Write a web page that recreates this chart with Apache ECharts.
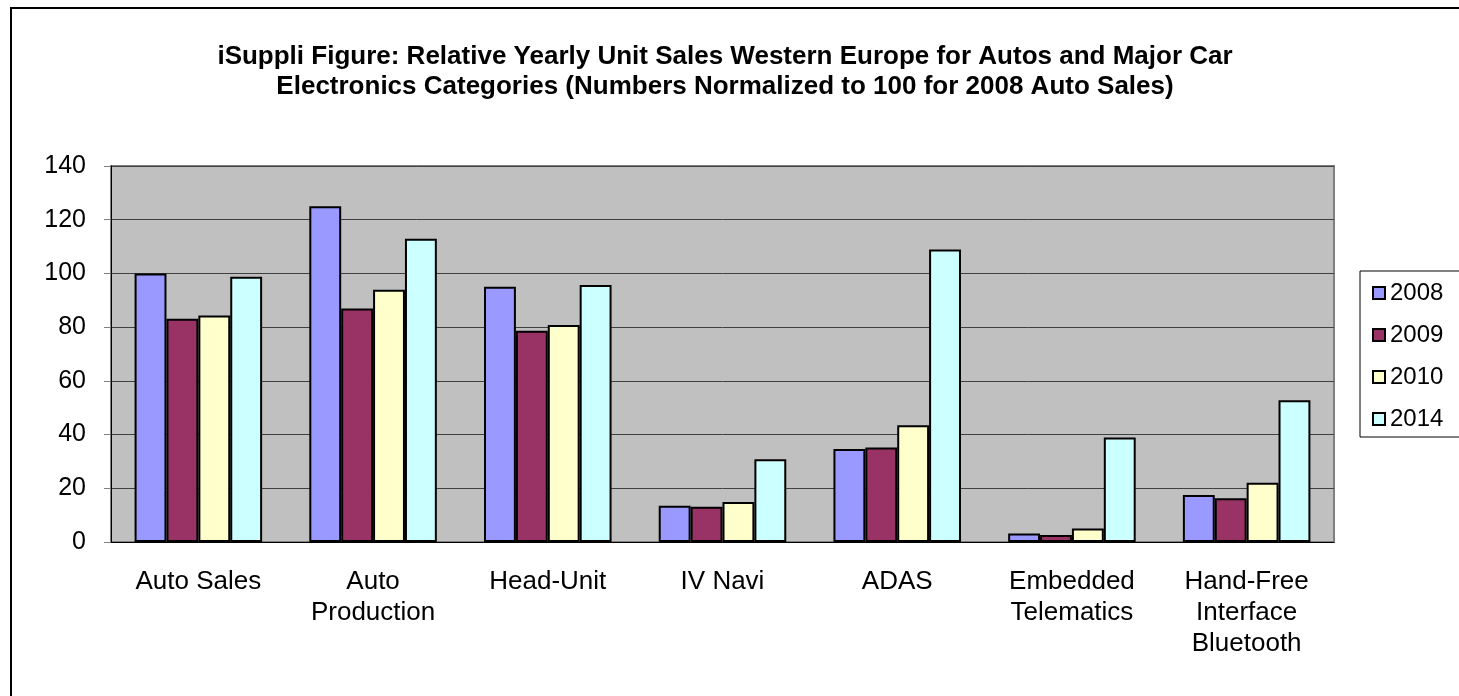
<!DOCTYPE html>
<html lang="en">
<head>
    <meta charset="UTF-8">
    <title>iSuppli Western Europe</title>
    <style>
        html,
        body {
            margin: 0;
            padding: 0;
            width: 100%;
            height: 100%;
            background: #fff;
        }

        #chart {
            width: 1459px;
            height: 696px;
        }
    </style>
</head>
<body>
<div id="chart"></div>
<script src="https://cdn.jsdelivr.net/npm/echarts@6.0.0/dist/echarts.min.js"></script>
<script>
    const categories = ['Auto Sales', 'Auto\nProduction', 'Head-Unit', 'IV Navi', 'ADAS', 'Embedded\nTelematics', 'Hand-Free\nInterface\nBluetooth']
    const years = ['2008', '2009', '2010', '2014']
    const sales2008 = [100, 125, 95, 13.5, 34.6, 3.2, 17.5]
    const sales2009 = [83.1, 86.9, 78.7, 13.1, 35.2, 2.6, 16.3]
    const sales2010 = [84.3, 93.9, 80.8, 14.9, 43.5, 5, 22.1]
    const sales2014 = [98.8, 112.9, 95.7, 30.8, 108.9, 38.9, 52.8]
    const colors = ['#9999ff', '#993366', '#ffffcc', '#ccffff']

    const font = 'Liberation Sans, Arial, sans-serif'
    const values = [sales2008, sales2009, sales2010, sales2014]

    const series = years.map((y, i) => ({
        name: y,
        type: 'bar',
        data: values[i],
        barGap: '0%',
        barCategoryGap: '27%',
        itemStyle: {
            color: colors[i],
            borderColor: '#000',
            borderWidth: 2
        }
    }))

    const chart = echarts.init(document.getElementById('chart'))
    chart.setOption({
        animation: false,
        textStyle: { fontFamily: font },
        title: {
            text: 'iSuppli Figure: Relative Yearly Unit Sales Western Europe for Autos and Major Car\nElectronics Categories (Numbers Normalized to 100 for 2008 Auto Sales)',
            left: 720,
            textAlign: 'center',
            top: 37,
            textStyle: {
                fontFamily: font,
                fontSize: 26,
                fontWeight: 'bold',
                lineHeight: 30,
                color: '#000'
            }
        },
        graphic: [{
            type: 'rect',
            shape: { x: 11, y: 8, width: 1500, height: 800 },
            style: { fill: 'none', stroke: '#000', lineWidth: 2 },
            silent: true
        }],
        legend: {
            orient: 'vertical',
            left: 1360,
            top: 271,
            width: 98,
            padding: [10, 20, 6, 12],
            itemWidth: 12,
            itemHeight: 12,
            itemGap: 18,
            icon: 'rect',
            borderColor: '#000',
            borderWidth: 1,
            textStyle: { fontFamily: font, fontSize: 24, lineHeight: 24, color: '#000', padding: [0, 0, 0, 0] }
        },
        grid: {
            left: 111,
            right: 125,
            top: 166,
            bottom: 154,
            show: true,
            backgroundColor: '#c0c0c0',
            borderColor: '#808080',
            borderWidth: 2
        },
        xAxis: {
            type: 'category',
            data: categories,
            axisLine: { lineStyle: { color: '#000', width: 1 } },
            axisTick: { length: 7, lineStyle: { color: '#808080' } },
            axisLabel: {
                interval: 0,
                fontSize: 26,
                lineHeight: 31,
                margin: 24,
                color: '#000'
            }
        },
        yAxis: {
            type: 'value',
            min: 0,
            max: 140,
            interval: 20,
            axisLine: { show: true, lineStyle: { color: '#000', width: 1 } },
            axisTick: { show: true, length: 7, lineStyle: { color: '#808080' } },
            axisLabel: { fontSize: 25, margin: 25, color: '#000' },
            splitLine: { lineStyle: { color: '#404040', width: 1 } }
        },
        series
    })
</script>
</body>
</html>
